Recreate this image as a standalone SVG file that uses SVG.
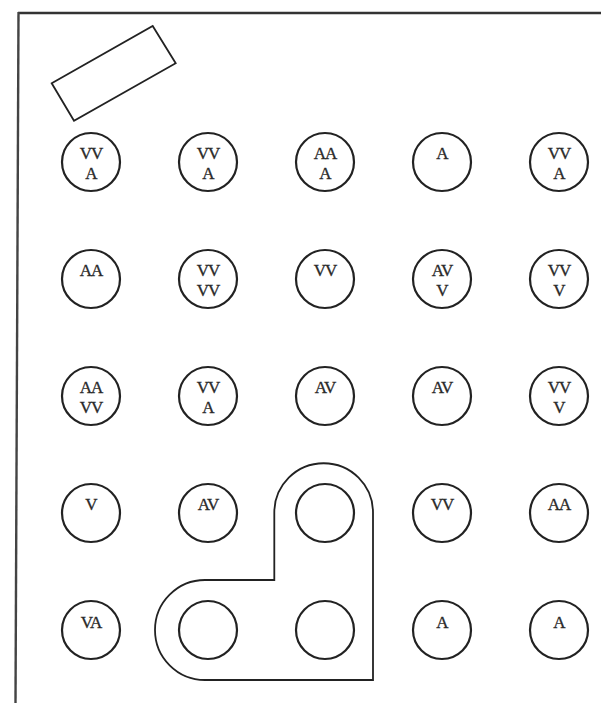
<svg xmlns="http://www.w3.org/2000/svg" width="601" height="703" viewBox="0 0 601 703">
<style>
.c{fill:none;stroke:#222;stroke-width:2.2}
.o{fill:none;stroke:#222;stroke-width:1.8}
.t{font-family:"Liberation Serif","Times New Roman",serif;font-size:17px;letter-spacing:-1px;fill:#2a2a2a;stroke:#2a2a2a;stroke-width:0.3;text-anchor:middle}
</style>
<rect width="601" height="703" fill="#fff"/>
<g id="frame">
<line x1="18" y1="13" x2="601" y2="13" stroke="#333" stroke-width="2.6"/>
<line x1="18.5" y1="12" x2="15.5" y2="703" stroke="#444" stroke-width="2.4"/>
</g>
<polygon id="slot" class="o" points="51.7,83.3 152.7,26 175.7,63.3 74,120.7"/>
<path id="plate" class="o" d="M274.3,580 L274.3,512.6 A49.3,49.3 0 0 1 373,512.6 L373,680 L205,680 A50,50 0 0 1 205,580 Z"/>
<g id="r1">
<g id="n11"><circle class="c" cx="91" cy="162" r="29"/><text class="t" x="91" y="158.5">VV</text><text class="t" x="91" y="178.5">A</text></g>
<g id="n12"><circle class="c" cx="208" cy="162" r="29"/><text class="t" x="208" y="158.5">VV</text><text class="t" x="208" y="178.5">A</text></g>
<g id="n13"><circle class="c" cx="325" cy="162" r="29"/><text class="t" x="325" y="158.5">AA</text><text class="t" x="325" y="178.5">A</text></g>
<g id="n14"><circle class="c" cx="442" cy="162" r="29"/><text class="t" x="442" y="158.5">A</text></g>
<g id="n15"><circle class="c" cx="559" cy="162" r="29"/><text class="t" x="559" y="158.5">VV</text><text class="t" x="559" y="178.5">A</text></g>
</g>
<g id="r2">
<g id="n21"><circle class="c" cx="91" cy="279" r="29"/><text class="t" x="91" y="275.5">AA</text></g>
<g id="n22"><circle class="c" cx="208" cy="279" r="29"/><text class="t" x="208" y="275.5">VV</text><text class="t" x="208" y="295.5">VV</text></g>
<g id="n23"><circle class="c" cx="325" cy="279" r="29"/><text class="t" x="325" y="275.5">VV</text></g>
<g id="n24"><circle class="c" cx="442" cy="279" r="29"/><text class="t" x="442" y="275.5">AV</text><text class="t" x="442" y="295.5">V</text></g>
<g id="n25"><circle class="c" cx="559" cy="279" r="29"/><text class="t" x="559" y="275.5">VV</text><text class="t" x="559" y="295.5">V</text></g>
</g>
<g id="r3">
<g id="n31"><circle class="c" cx="91" cy="396" r="29"/><text class="t" x="91" y="392.5">AA</text><text class="t" x="91" y="412.5">VV</text></g>
<g id="n32"><circle class="c" cx="208" cy="396" r="29"/><text class="t" x="208" y="392.5">VV</text><text class="t" x="208" y="412.5">A</text></g>
<g id="n33"><circle class="c" cx="325" cy="396" r="29"/><text class="t" x="325" y="392.5">AV</text></g>
<g id="n34"><circle class="c" cx="442" cy="396" r="29"/><text class="t" x="442" y="392.5">AV</text></g>
<g id="n35"><circle class="c" cx="559" cy="396" r="29"/><text class="t" x="559" y="392.5">VV</text><text class="t" x="559" y="412.5">V</text></g>
</g>
<g id="r4">
<g id="n41"><circle class="c" cx="91" cy="513" r="29"/><text class="t" x="91" y="509.5">V</text></g>
<g id="n42"><circle class="c" cx="208" cy="513" r="29"/><text class="t" x="208" y="509.5">AV</text></g>
<g id="n43"><circle class="c" cx="325" cy="513" r="29"/></g>
<g id="n44"><circle class="c" cx="442" cy="513" r="29"/><text class="t" x="442" y="509.5">VV</text></g>
<g id="n45"><circle class="c" cx="559" cy="513" r="29"/><text class="t" x="559" y="509.5">AA</text></g>
</g>
<g id="r5">
<g id="n51"><circle class="c" cx="91" cy="630" r="29"/><text class="t" x="91" y="627.5">VA</text></g>
<g id="n52"><circle class="c" cx="208" cy="630" r="29"/></g>
<g id="n53"><circle class="c" cx="325" cy="630" r="29"/></g>
<g id="n54"><circle class="c" cx="442" cy="630" r="29"/><text class="t" x="442" y="627.5">A</text></g>
<g id="n55"><circle class="c" cx="559" cy="630" r="29"/><text class="t" x="559" y="627.5">A</text></g>
</g>
<g id="connectors"/>
</svg>
